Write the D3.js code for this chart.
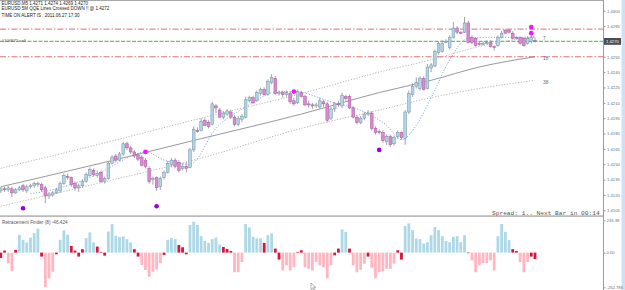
<!DOCTYPE html>
<html>
<head>
<meta charset="utf-8">
<script src="https://cdn.jsdelivr.net/npm/d3@7"></script>
<style>
body { margin: 0; background: #fff; }
svg { display: block; font-family: "Liberation Sans", Arial, sans-serif; }
</style>
</head>
<body>
<svg id="chart" width="625" height="290"></svg>
<script>
// EURUSD M5 candles, oldest first
var opens = [1.4124,1.4126,1.4125,1.4126,1.4122,1.4125,1.4129,1.4124,1.4128,1.4129,
1.4130,1.4130,1.4127,1.4119,1.4120,1.4122,1.4124,1.4131,1.4138,1.4137,
1.4131,1.4127,1.4129,1.4133,1.4139,1.4144,1.4139,1.4142,1.4133,1.4136,
1.4151,1.4158,1.4154,1.4160,1.4170,1.4166,1.4162,1.4159,1.4157,1.4154,
1.4146,1.4135,1.4137,1.4128,1.4137,1.4142,1.4150,1.4154,1.4152,1.4146,
1.4148,1.4147,1.4164,1.4183,1.4183,1.4193,1.4191,1.4189,1.4207,1.4203,
1.4196,1.4199,1.4201,1.4196,1.4189,1.4194,1.4196,1.4212,1.4215,1.4212,
1.4219,1.4223,1.4218,1.4230,1.4234,1.4219,1.4220,1.4218,1.4219,1.4212,
1.4210,1.4220,1.4216,1.4209,1.4208,1.4207,1.4206,1.4211,1.4209,1.4195,
1.4204,1.4209,1.4207,1.4216,1.4216,1.4205,1.4196,1.4191,1.4195,1.4199,
1.4200,1.4185,1.4182,1.4181,1.4172,1.4177,1.4170,1.4177,1.4181,1.4175,
1.4201,1.4218,1.4226,1.4224,1.4234,1.4224,1.4244,1.4246,1.4259,1.4260,
1.4269,1.4264,1.4274,1.4283,1.4279,1.4279,1.4288,1.4274,1.4273,1.4268,
1.4267,1.4268,1.4269,1.4265,1.4266,1.4274,1.4281,1.4281,1.4278,1.4274,
1.4274,1.4273,1.4268,1.4270,1.4271];
var highs = [1.4128,1.4128,1.4129,1.4128,1.4127,1.4129,1.4131,1.4130,1.4131,1.4133,
1.4133,1.4132,1.4129,1.4123,1.4124,1.4127,1.4133,1.4141,1.4141,1.4138,
1.4133,1.4131,1.4135,1.4142,1.4147,1.4146,1.4144,1.4144,1.4138,1.4153,
1.4159,1.4160,1.4162,1.4172,1.4172,1.4168,1.4164,1.4161,1.4159,1.4156,
1.4148,1.4138,1.4138,1.4138,1.4144,1.4153,1.4156,1.4156,1.4154,1.4151,
1.4152,1.4166,1.4187,1.4186,1.4195,1.4195,1.4193,1.4211,1.4209,1.4205,
1.4202,1.4204,1.4203,1.4198,1.4197,1.4199,1.4216,1.4217,1.4217,1.4222,
1.4225,1.4225,1.4233,1.4238,1.4236,1.4222,1.4222,1.4222,1.4221,1.4215,
1.4223,1.4222,1.4218,1.4212,1.4210,1.4210,1.4215,1.4213,1.4211,1.4206,
1.4211,1.4212,1.4220,1.4218,1.4218,1.4207,1.4198,1.4197,1.4201,1.4203,
1.4202,1.4187,1.4184,1.4183,1.4179,1.4179,1.4178,1.4183,1.4182,1.4203,
1.4222,1.4229,1.4235,1.4236,1.4236,1.4248,1.4249,1.4262,1.4270,1.4271,
1.4272,1.4276,1.4289,1.4285,1.4280,1.4294,1.4290,1.4276,1.4274,1.4270,
1.4270,1.4271,1.4271,1.4266,1.4276,1.4280,1.4282,1.4282,1.4280,1.4275,
1.4275,1.4274,1.4275,1.4276,1.4274];
var lows = [1.4122,1.4123,1.4123,1.4118,1.4121,1.4124,1.4123,1.4122,1.4126,1.4127,
1.4128,1.4123,1.4112,1.4116,1.4118,1.4121,1.4122,1.4130,1.4135,1.4128,
1.4124,1.4123,1.4127,1.4132,1.4138,1.4138,1.4137,1.4132,1.4131,1.4135,
1.4150,1.4152,1.4153,1.4158,1.4164,1.4160,1.4156,1.4153,1.4148,1.4146,
1.4131,1.4130,1.4124,1.4125,1.4135,1.4141,1.4147,1.4146,1.4142,1.4144,
1.4142,1.4146,1.4162,1.4181,1.4182,1.4187,1.4185,1.4188,1.4200,1.4195,
1.4194,1.4197,1.4194,1.4187,1.4187,1.4191,1.4195,1.4210,1.4209,1.4211,
1.4217,1.4217,1.4217,1.4228,1.4218,1.4217,1.4215,1.4216,1.4209,1.4207,
1.4209,1.4215,1.4207,1.4205,1.4204,1.4205,1.4204,1.4206,1.4191,1.4193,
1.4201,1.4206,1.4205,1.4212,1.4204,1.4195,1.4189,1.4189,1.4193,1.4197,
1.4183,1.4179,1.4179,1.4171,1.4169,1.4167,1.4168,1.4175,1.4174,1.4169,
1.4199,1.4216,1.4224,1.4222,1.4222,1.4223,1.4240,1.4245,1.4257,1.4259,
1.4268,1.4262,1.4273,1.4277,1.4277,1.4278,1.4268,1.4267,1.4265,1.4266,
1.4266,1.4267,1.4264,1.4261,1.4265,1.4273,1.4277,1.4278,1.4272,1.4272,
1.4267,1.4265,1.4267,1.4268,1.4269];
var closes = [1.4126,1.4125,1.4127,1.4122,1.4125,1.4127,1.4125,1.4128,1.4129,1.4131,
1.4131,1.4125,1.4119,1.4121,1.4122,1.4125,1.4131,1.4139,1.4137,1.4130,
1.4127,1.4129,1.4133,1.4140,1.4145,1.4140,1.4141,1.4133,1.4136,1.4151,
1.4157,1.4154,1.4160,1.4170,1.4166,1.4162,1.4158,1.4155,1.4149,1.4148,
1.4133,1.4136,1.4127,1.4136,1.4142,1.4151,1.4154,1.4148,1.4144,1.4148,
1.4146,1.4164,1.4184,1.4182,1.4192,1.4188,1.4187,1.4209,1.4205,1.4196,
1.4200,1.4202,1.4196,1.4189,1.4195,1.4197,1.4213,1.4215,1.4210,1.4220,
1.4223,1.4218,1.4231,1.4235,1.4219,1.4220,1.4218,1.4220,1.4211,1.4209,
1.4221,1.4216,1.4208,1.4208,1.4207,1.4208,1.4212,1.4209,1.4193,1.4204,
1.4209,1.4208,1.4217,1.4214,1.4205,1.4196,1.4191,1.4195,1.4199,1.4200,
1.4185,1.4181,1.4181,1.4173,1.4177,1.4169,1.4176,1.4181,1.4176,1.4201,
1.4219,1.4226,1.4230,1.4234,1.4223,1.4245,1.4247,1.4260,1.4268,1.4268,
1.4270,1.4274,1.4283,1.4279,1.4278,1.4288,1.4269,1.4269,1.4266,1.4267,
1.4268,1.4269,1.4265,1.4264,1.4274,1.4278,1.4278,1.4279,1.4273,1.4273,
1.4268,1.4266,1.4273,1.4274,1.4270];

// moving average lines, read at a few bars
var maIdx = [0, 27, 54, 81, 102, 116, 129, 144];
var maUpper = [1.4146, 1.4170, 1.4195, 1.4219, 1.4240, 1.4252, 1.4265, 1.4275];
var maMid = [1.4128, 1.4151, 1.4175, 1.4199, 1.4220, 1.4232, 1.4245, 1.4255];
var maLower = [1.4109, 1.4132, 1.4156, 1.4185, 1.4203, 1.4215, 1.4224, 1.4232];
var maLabels = ["7", "18", "38"];

// blue dotted curve
var blueIdx = [8, 16, 27, 34, 39, 44, 51, 58, 66, 75, 79, 89, 98, 104, 108, 112, 116, 121, 126, 134, 144];
var bluePrice = [1.4121, 1.4127, 1.4142, 1.4156, 1.4162, 1.4154, 1.4150, 1.4185, 1.4206, 1.4221, 1.4221,
  1.4211, 1.4201, 1.4188, 1.4174, 1.4188, 1.4215, 1.4252, 1.4273, 1.4274, 1.4274];

// signal dots
var magentaIdx = [39, 79, 143, 143];
var magentaPrice = [1.4162, 1.4221, 1.4284, 1.4278];
var purpleIdx = [6, 42, 102];
var purplePrice = [1.4107, 1.4109, 1.4164];

// order levels
var levelPrices = [1.4282, 1.4270, 1.4255];
var levelKinds = ["tp", "entry", "sl"];

// Retracement Finder (8) histogram
var hist = [-39,15,-78,-135,20,130,93,74,110,142,
174,-29,-250,-189,-140,-12,93,162,130,49,
15,-29,25,105,147,74,44,5,-22,154,
208,123,113,118,98,74,25,-29,-90,-127,
-176,-140,-123,-78,-17,93,105,98,56,39,
-12,201,225,201,120,85,71,98,110,59,
41,26,12,-143,-143,-69,208,184,115,103,
103,71,127,140,29,-51,-130,-93,-130,-106,
3,17,-106,-118,-130,-69,-93,-106,-187,-93,
-20,29,169,151,29,-93,-143,-125,-81,-29,
-110,-187,-143,-138,-118,-118,-81,17,-51,194,
213,164,103,98,66,76,127,188,164,120,
85,76,115,120,76,127,-3,-57,-143,-93,
-76,-76,-57,-130,120,208,151,91,25,12,
-69,-143,-69,-29,-46.424];
// b = up, p = down, r = turning bar
var histKind = ("rrpprbbbbb" + "brppprbbbr" + "rrrbbbrrrb" + "bbbbbbrrpp" + "pppprbbbrr" +
  "rbbbbbbbbb" + "rrrpppbbbb" + "brbbrrpppp" + "rrpppppppp" + "rrbbrppppr" +
  "ppppppprrb" + "bbbbbbbbbb" + "bbbbbbrppp" + "ppppbbbbrr" + "ppprr").split("");

var priceTicks = [1.4300,1.4285,1.4270,1.4255,1.4240,1.4225,1.4210,1.4195,1.4180,1.4165,1.4150,1.4135,1.4120,1.4105];
var histTicks = [235.38, 0, -252.786];
var histTickLabels = ["235.38", "0.00", "-252.786"];

var svg = d3.select("#chart");

var x = d3.scaleLinear().domain([0, 144]).range([0.8, 535]);
var y = d3.scaleLinear().domain([1.4105, 1.4300]).range([210.3, 10.7]);
var yh = d3.scaleLinear().domain([-252.786, 235.38]).range([287.3, 220.3]);

svg.append("rect").attr("width", 625).attr("height", 290).attr("fill", "#fff");

// frame
svg.append("line").attr("x1", 0).attr("x2", 603.5).attr("y1", 0.5).attr("y2", 0.5)
  .attr("stroke", "#a8a8a8");
svg.append("rect").attr("x", 0).attr("y", 215.3).attr("width", 603.5).attr("height", 1.6)
  .attr("fill", "#b4b4b4");
svg.append("line").attr("x1", 603.5).attr("x2", 603.5).attr("y1", 0).attr("y2", 290)
  .attr("stroke", "#9c9c9c");
svg.append("rect").attr("x", 621.5).attr("y", 0).attr("width", 3.5).attr("height", 290)
  .attr("fill", "#cfe0f2");

// order levels
levelPrices.forEach(function(p, i) {
  var entry = levelKinds[i] == "entry";
  svg.append("line")
    .attr("x1", 0).attr("x2", 603)
    .attr("y1", y(p)).attr("y2", y(p))
    .attr("stroke", entry ? "#5fc85f" : "#e06060")
    .attr("stroke-width", entry ? 1.1 : 0.9)
    .attr("stroke-dasharray", entry ? "4,1.5" : "6,2,1.5,2");
});

// moving averages
function maLine(vals) {
  return d3.line()
    .x(function(d, i) { return x(maIdx[i]); })
    .y(function(d) { return y(d); })
    .curve(d3.curveMonotoneX)(vals);
}
svg.append("path").attr("d", maLine(maUpper)).attr("fill", "none")
  .attr("stroke", "#a4a4a4").attr("stroke-width", 0.8).attr("stroke-dasharray", "1.2,1.6");
svg.append("path").attr("d", maLine(maMid)).attr("fill", "none")
  .attr("stroke", "#8c8c8c").attr("stroke-width", 0.9);
svg.append("path").attr("d", maLine(maLower)).attr("fill", "none")
  .attr("stroke", "#a4a4a4").attr("stroke-width", 0.8).attr("stroke-dasharray", "1.2,1.6");

var blueLine = d3.line()
  .x(function(d, i) { return x(blueIdx[i]); })
  .y(function(d) { return y(d); })
  .curve(d3.curveMonotoneX);
svg.append("path").attr("d", blueLine(bluePrice)).attr("fill", "none")
  .attr("stroke", "#7d9ee6").attr("stroke-width", 0.9).attr("stroke-dasharray", "1.2,1.6");

[maUpper, maMid, maLower].forEach(function(vals, i) {
  svg.append("text")
    .attr("x", x(144) + 8).attr("y", y(vals[vals.length - 1]) + 3.5)
    .attr("font-size", 4.8).attr("fill", "#666")
    .text(maLabels[i]);
});

// candles
var candles = svg.append("g");
opens.forEach(function(o, i) {
  var c = closes[i];
  var up = c >= o;
  var cx = x(i);
  candles.append("line")
    .attr("x1", cx).attr("x2", cx)
    .attr("y1", y(highs[i])).attr("y2", y(lows[i]))
    .attr("stroke", "#858585").attr("stroke-width", 0.75);
  var top = y(Math.max(o, c)), bot = y(Math.min(o, c));
  candles.append("rect")
    .attr("x", cx - 1.35).attr("y", top)
    .attr("width", 2.7).attr("height", Math.max(0.8, bot - top))
    .attr("fill", up ? "#b3d6e6" : "#d98ad2")
    .attr("stroke", up ? "#7897aa" : "#ad5ca4")
    .attr("stroke-width", 0.55);
});

// signal dots
magentaIdx.forEach(function(d, i) {
  svg.append("circle").attr("cx", x(d)).attr("cy", y(magentaPrice[i])).attr("r", 2.4)
    .attr("fill", "#ff10ff");
});
purpleIdx.forEach(function(d, i) {
  svg.append("circle").attr("cx", x(d)).attr("cy", y(purplePrice[i])).attr("r", 2.3)
    .attr("fill", "#9a00d6");
});

// histogram
var histColor = { b: "#add8e6", p: "#ffb6c1", r: "#dc143c" };
hist.forEach(function(v, i) {
  svg.append("rect")
    .attr("x", x(i) - 1.4).attr("width", 2.8)
    .attr("y", yh(Math.max(0, v)))
    .attr("height", Math.max(0.6, Math.abs(yh(v) - yh(0))))
    .attr("fill", histColor[histKind[i]]);
});

// price axis
var axis = svg.append("g").attr("transform", "translate(603.5,0)")
  .call(d3.axisRight(y).tickValues(priceTicks).tickFormat(d3.format(".4f")).tickSize(2).tickPadding(1.5));
axis.select(".domain").remove();
axis.selectAll("line").attr("stroke", "#999");
axis.selectAll("text").attr("font-size", 4.2).attr("fill", "#707070").attr("font-family", "Liberation Sans, Arial");

var haxis = svg.append("g").attr("transform", "translate(603.5,0)")
  .call(d3.axisRight(yh).tickValues(histTicks).tickFormat(function(d, i) { return histTickLabels[i]; })
    .tickSize(2).tickPadding(1));
haxis.select(".domain").remove();
haxis.selectAll("line").attr("stroke", "#999");
haxis.selectAll("text").attr("font-size", 4.2).attr("fill", "#707070").attr("font-family", "Liberation Sans, Arial");

// current bid marker
var bid = closes[closes.length - 1];
svg.append("rect").attr("x", 604).attr("y", y(bid) - 3.4).attr("width", 17).attr("height", 6.8)
  .attr("fill", "#4d4d4d");
svg.append("text").attr("x", 606).attr("y", y(bid) + 1.5).attr("font-size", 4.2)
  .attr("fill", "#fff").text(d3.format(".4f")(bid));

// header text
var header = [
  "EURUSD,M5  1.4271 1.4274 1.4269 1.4270",
  "EURUSD 5M    QQE Lines Crossed DOWN !!    @    1.4272",
  "TIME ON ALERT IS : 2011.06.27 17:30"
];
var headerY = [5.2, 10.4, 17.2];
header.forEach(function(t, i) {
  svg.append("text").attr("x", 1.5).attr("y", headerY[i]).attr("font-size", 4.5)
    .attr("fill", "#222").text(t);
});
svg.append("text").attr("x", 1.5).attr("y", y(1.4270) + 0.6).attr("font-size", 4.3)
  .attr("fill", "#555").text("#106872 sell");

svg.append("text").attr("x", 492).attr("y", 214.6).attr("font-size", 6.2)
  .attr("font-family", "Liberation Mono, Courier New, monospace").attr("fill", "#555")
  .attr("xml:space", "preserve").text("Spread: 1.. Next Bar in 00:14");

svg.append("text").attr("x", 2).attr("y", 224).attr("font-size", 4.7)
  .attr("fill", "#555").text("Retracement Finder (8) -46.424");

// mouse pointer left on the screen
svg.append("path")
  .attr("d", "M311,283 L311,289.5 L312.6,288 L314,290.5 L315,290 L313.7,287.4 L315.8,287.4 Z")
  .attr("fill", "#fff").attr("stroke", "#666").attr("stroke-width", 0.5);
</script>
</body>
</html>
